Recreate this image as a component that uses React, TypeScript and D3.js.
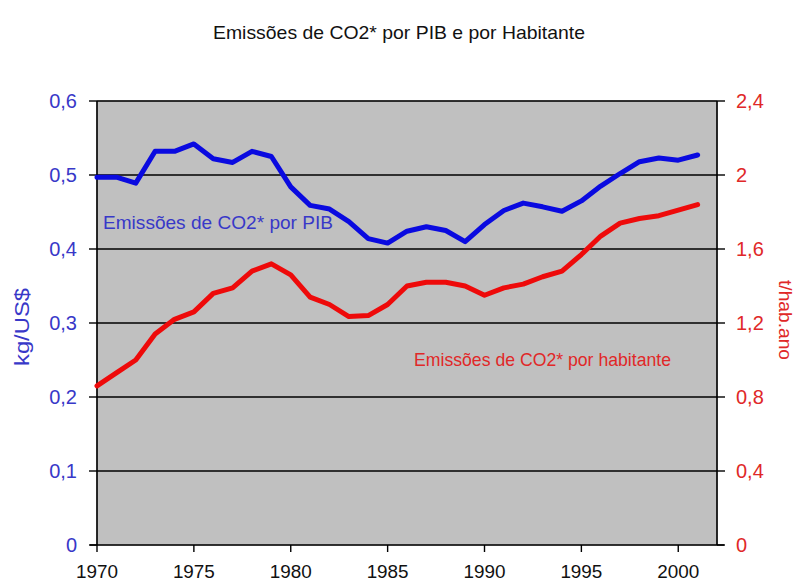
import React from "react";
import * as d3 from "d3";

const years: number[] = [];
for (let y = 1970; y <= 2001; y++) years.push(y);

const perGdp = [
  0.497, 0.497, 0.489, 0.532, 0.532, 0.542, 0.522, 0.517, 0.532, 0.525,
  0.484, 0.459, 0.454, 0.437, 0.414, 0.408, 0.424, 0.43, 0.425, 0.41,
  0.433, 0.452, 0.462, 0.457, 0.451, 0.465, 0.485, 0.502, 0.518, 0.523,
  0.52, 0.527,
];

const perCapita = [
  0.86, 0.93, 1.0, 1.14, 1.22, 1.26, 1.36, 1.39, 1.48, 1.52,
  1.46, 1.34, 1.3, 1.235, 1.24, 1.3, 1.4, 1.42, 1.42, 1.4,
  1.35, 1.39, 1.41, 1.45, 1.48, 1.57, 1.67, 1.74, 1.765, 1.78,
  1.81, 1.84,
];

const leftTicks = [0, 0.1, 0.2, 0.3, 0.4, 0.5, 0.6];
const rightTicks = [0, 0.4, 0.8, 1.2, 1.6, 2.0, 2.4];
const xTicks = [1970, 1975, 1980, 1985, 1990, 1995, 2000];

const fmt = (v: number) => String(Math.round(v * 10) / 10).replace(".", ",");

const W = 796;
const H = 584;
const L = 97;
const R = 717;
const T = 101;
const B = 545;

export default function App() {
  const x = d3.scaleLinear().domain([1970, 2002]).range([L, R]);
  const yL = d3.scaleLinear().domain([0, 0.6]).range([B, T]);
  const yR = d3.scaleLinear().domain([0, 2.4]).range([B, T]);

  const lineL = d3
    .line<number>()
    .x((_, i) => x(years[i]))
    .y((d) => yL(d))
    .curve(d3.curveLinear);
  const lineR = d3
    .line<number>()
    .x((_, i) => x(years[i]))
    .y((d) => yR(d))
    .curve(d3.curveLinear);

  const font = "'Liberation Sans', Arial, sans-serif";
  const blue = "#3838c8";
  const red = "#e02828";

  return (
    <svg
      width={W}
      height={H}
      style={{ position: "absolute", left: 0, top: 0, background: "#fff" }}
      fontFamily={font}
    >
      <text
        x={399}
        y={39}
        textAnchor="middle"
        fontSize={19}
        fill="#111"
        textLength={372}
        lengthAdjust="spacingAndGlyphs"
      >
        Emissões de CO2* por PIB e por Habitante
      </text>

      <rect x={L} y={T} width={R - L} height={B - T} fill="#c0c0c0" stroke="#9a9a9a" strokeWidth={1} />

      {leftTicks.slice(1).map((t) => (
        <line key={"g" + t} x1={L} x2={R} y1={yL(t)} y2={yL(t)} stroke="#000" strokeWidth={1.4} />
      ))}

      <line x1={L} x2={L} y1={T} y2={B} stroke="#000" strokeWidth={1.6} />
      <line x1={R} x2={R} y1={T} y2={B} stroke="#000" strokeWidth={1.6} />
      <line x1={L - 7} x2={R + 7} y1={B} y2={B} stroke="#000" strokeWidth={1.6} />

      {leftTicks.map((t) => (
        <g key={"l" + t}>
          <line x1={L - 8} x2={L} y1={yL(t)} y2={yL(t)} stroke="#000" strokeWidth={1.4} />
          <text x={77} y={yL(t) + 7} textAnchor="end" fontSize={20} fill={blue}>
            {fmt(t)}
          </text>
        </g>
      ))}
      {rightTicks.map((t) => (
        <g key={"r" + t}>
          <line x1={R} x2={R + 8} y1={yR(t)} y2={yR(t)} stroke="#000" strokeWidth={1.4} />
          <text x={736} y={yR(t) + 7} textAnchor="start" fontSize={20} fill={red}>
            {fmt(t)}
          </text>
        </g>
      ))}
      {xTicks.map((t) => (
        <g key={"x" + t}>
          <line x1={x(t)} x2={x(t)} y1={B} y2={B + 7} stroke="#000" strokeWidth={1.4} />
          <text
            x={x(t) - 21}
            y={578}
            fontSize={18}
            fill="#111"
            textLength={42}
            lengthAdjust="spacingAndGlyphs"
          >
            {t}
          </text>
        </g>
      ))}

      <text
        transform={`translate(29,327) rotate(-90)`}
        textAnchor="middle"
        fontSize={20}
        fill={blue}
        textLength={78}
        lengthAdjust="spacingAndGlyphs"
      >
        kg/US$
      </text>
      <text
        transform={`translate(779,320) rotate(90)`}
        textAnchor="middle"
        fontSize={18}
        fill={red}
        textLength={80}
        lengthAdjust="spacingAndGlyphs"
      >
        t/hab.ano
      </text>

      <path d={lineL(perGdp) || ""} fill="none" stroke="#0a0ae0" strokeWidth={5} strokeLinejoin="round" strokeLinecap="round" />
      <path d={lineR(perCapita) || ""} fill="none" stroke="#ee0a0a" strokeWidth={5} strokeLinejoin="round" strokeLinecap="round" />

      <text
        x={103}
        y={229}
        fontSize={19}
        fill={blue}
        textLength={230}
        lengthAdjust="spacingAndGlyphs"
      >
        Emissões de CO2* por PIB
      </text>
      <text
        x={414}
        y={366}
        fontSize={19}
        fill={red}
        textLength={257}
        lengthAdjust="spacingAndGlyphs"
      >
        Emissões de CO2* por habitante
      </text>
    </svg>
  );
}
